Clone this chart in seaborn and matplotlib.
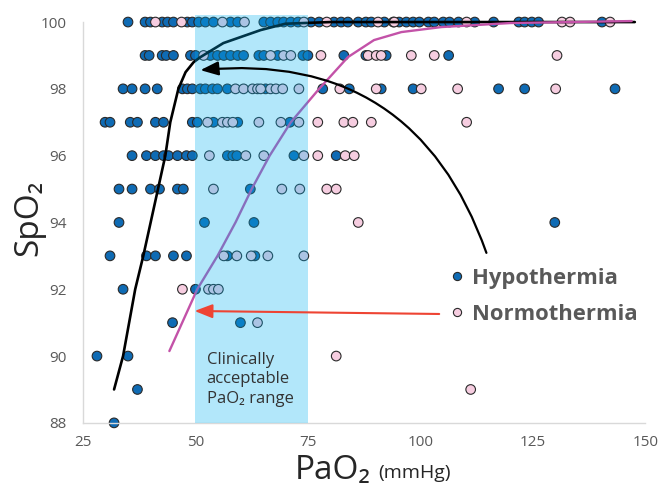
import matplotlib
matplotlib.use('Agg')
import matplotlib.pyplot as plt
import pandas as pd
import seaborn as sns
from matplotlib.patches import Rectangle

# PaO2 readings (mmHg) for each SpO2 row
hypo_100 = [35.0, 38.8, 40.0, 42.6, 43.8, 45.1, 48.2, 49.3, 50.7, 52.2, 54.0, 57.8, 59.4, 65.2,
            66.7, 68.3, 69.6, 71.2, 72.8, 75.7, 77.5, 80.8, 82.4, 83.9, 86.2, 87.9, 89.1, 92.0,
            94.0, 95.3, 96.9, 98.4, 99.8, 101.8, 103.1, 105.1, 106.5, 108.5, 112.1, 116.3,
            121.9, 123.2, 124.8, 126.3, 140.4]
hypo_99 = [38.8, 39.7, 42.6, 43.5, 45.1, 48.9, 50.0, 53.3, 54.9, 56.3, 57.8, 59.4, 60.7, 64.1,
           65.2, 68.3, 73.9, 75.0, 83.0, 87.9, 92.4, 106.3]
hypo_98 = [33.9, 35.9, 38.8, 41.5, 47.1, 48.2, 49.3, 51.1, 52.2, 53.8, 54.9, 57.1, 65.6, 78.3,
           84.2, 91.3, 98.4, 117.4, 123.2, 143.3]
hypo_97 = [29.9, 31.0, 35.5, 37.1, 41.1, 42.9, 49.3, 50.4, 54.0, 59.4, 71.0]
hypo_96 = [35.9, 39.1, 41.1, 42.9, 44.0, 46.0, 48.0, 49.3, 57.1, 58.3, 59.2, 71.9, 81.3]
hypo_95 = [33.0, 35.9, 40.0, 42.0, 46.0, 47.3, 62.2]
hypo_94 = [33.0, 52.0, 63.0, 129.9]
hypo_93 = [31.0, 39.1, 41.1, 45.1, 48.0, 57.1, 63.2]
hypo_92 = [33.9, 50.0]
hypo_91 = [44.9, 60.0]
hypo_90 = [28.1, 35.0]
hypo_89 = [37.1]
hypo_88 = [31.9]

norm_100 = [41.1, 46.9, 56.0, 60.9, 74.1, 79.2, 90.6, 94.2, 110.3, 131.5, 133.3, 142.2]
norm_99 = [51.8, 66.7, 69.6, 71.2, 77.9, 88.4, 90.2, 91.3, 98.0, 103.1, 130.4]
norm_98 = [58.9, 60.7, 62.7, 63.8, 64.5, 66.7, 67.9, 69.4, 73.0, 82.1, 90.2, 100.2, 108.3, 130.1]
norm_97 = [52.7, 56.0, 57.1, 58.3, 64.1, 69.0, 73.0, 77.2, 83.0, 85.0, 89.1, 110.3]
norm_96 = [53.1, 61.2, 65.2, 74.1, 77.2, 83.3, 85.3]
norm_95 = [54.0, 69.2, 73.2, 79.2, 81.3]
norm_94 = [86.2]
norm_93 = [56.3, 59.2, 62.4, 66.1, 74.1]
norm_92 = [47.1, 52.9, 54.0, 55.1]
norm_91 = [63.8]
norm_90 = [81.3]
norm_89 = [111.2]

# dissociation curves
hypo_curve_pao2 = [31.9, 33.9, 36.6, 38.4, 43.3, 44.4, 46.2, 47.8, 49.6, 51.1, 56.2, 64.5, 70.0, 80.0, 147.7]
hypo_curve_spo2 = [89.0, 90.0, 92.0, 93.0, 96.0, 97.0, 98.0, 98.5, 98.8, 98.95, 99.37, 99.76, 99.95, 100.0, 100.0]
norm_curve_pao2 = [44.2, 50.4, 54.9, 58.9, 62.5, 66.5, 71.2, 77.5, 83.9, 89.7, 95.8, 104.7, 120.0, 147.0]
norm_curve_spo2 = [90.15, 92.0, 93.0, 94.0, 95.0, 96.0, 97.0, 98.0, 98.95, 99.46, 99.7, 99.85, 99.97, 100.03]

x_ticks = [25, 50, 75, 100, 125, 150]
y_ticks = [88, 90, 92, 94, 96, 98, 100]
groups = ['Hypothermia', 'Normothermia']

hypo_rows = [hypo_100, hypo_99, hypo_98, hypo_97, hypo_96, hypo_95, hypo_94,
             hypo_93, hypo_92, hypo_91, hypo_90, hypo_89, hypo_88]
norm_rows = [norm_100, norm_99, norm_98, norm_97, norm_96, norm_95, norm_94,
             norm_93, norm_92, norm_91, norm_90, norm_89]

records = []
for i, row in enumerate(hypo_rows):
    records += [(x, 100 - i, groups[0]) for x in row]
for i, row in enumerate(norm_rows):
    records += [(x, 100 - i, groups[1]) for x in row]
df = pd.DataFrame(records, columns=['PaO2', 'SpO2', 'group'])

sns.set_theme(style='white')
plt.rcParams['font.family'] = ['Open Sans', 'DejaVu Sans']

grey = '#595959'
fig = plt.figure(figsize=(6.59, 4.90), dpi=100)
ax = fig.add_axes([0.126, 0.137, 0.853, 0.818])

sns.scatterplot(data=df, x='PaO2', y='SpO2', hue='group', hue_order=groups,
                palette={'Hypothermia': '#0f6bb4', 'Normothermia': '#f6cde0'},
                s=48, edgecolor='#2a2a2a', linewidth=0.8, ax=ax, zorder=2)

sns.lineplot(x=hypo_curve_pao2, y=hypo_curve_spo2, color='black', lw=1.9,
             sort=False, estimator=None, ax=ax, zorder=3)
sns.lineplot(x=norm_curve_pao2, y=norm_curve_spo2, color='#c352a8', lw=1.7,
             sort=False, estimator=None, ax=ax, zorder=3)
for art in ax.collections + ax.lines:
    art.set_clip_on(False)

# clinically acceptable band, laid over the points
ax.add_patch(Rectangle((50, 88), 25, 12.22, facecolor='#00b0f0', alpha=0.3,
                       edgecolor='none', zorder=4, clip_on=False))
ax.text(52.5, 89.3, 'Clinically\nacceptable\nPaO\u2082 range', fontsize=12,
        color='#333333', va='center', ha='left', linespacing=1.3, zorder=6)

ax.annotate('', xy=(51.1, 98.56), xytext=(114.7, 93.09),
            arrowprops=dict(arrowstyle='-|>,head_length=0.9,head_width=0.35', color='black',
                            lw=1.6, connectionstyle='arc3,rad=0.39', shrinkA=0, shrinkB=0),
            zorder=5)
ax.annotate('', xy=(49.8, 91.35), xytext=(104.2, 91.26),
            arrowprops=dict(arrowstyle='-|>,head_length=0.9,head_width=0.35', color='#ee4433',
                            lw=1.5, shrinkA=0, shrinkB=0),
            zorder=5)

ax.set_xlim(25, 150)
ax.set_ylim(88, 100)
ax.set_xticks(x_ticks)
ax.set_yticks(y_ticks)
ax.tick_params(axis='both', length=0, labelsize=11, labelcolor=grey)
ax.tick_params(axis='x', pad=9)
ax.tick_params(axis='y', pad=12)
for side in ['top', 'right']:
    ax.spines[side].set_visible(False)
for side in ['left', 'bottom']:
    ax.spines[side].set_color('#d9d9d9')
    ax.spines[side].set_linewidth(1.0)
ax.set_xlabel('')
ax.set_ylabel('')

handles, labels = ax.get_legend_handles_labels()
leg = ax.legend(handles, labels, loc='upper left', bbox_to_anchor=(0.632, 0.414),
                frameon=False, borderpad=0, handlelength=0.7, handletextpad=0.35,
                labelspacing=0.68, fontsize=15.8, markerscale=0.85)
for t in leg.get_texts():
    t.set_color(grey)
    t.set_fontweight('bold')

fig.text(0.044, 0.555, 'SpO\u2082', rotation=90, fontsize=24, color='#262626',
         ha='center', va='center')
fig.text(0.448, 0.04, 'PaO\u2082', fontsize=24, color='#262626', ha='left', va='center')
fig.text(0.574, 0.034, '(mmHg)', fontsize=14, color='#262626', ha='left', va='center')

fig.savefig('out.png', dpi=100)
